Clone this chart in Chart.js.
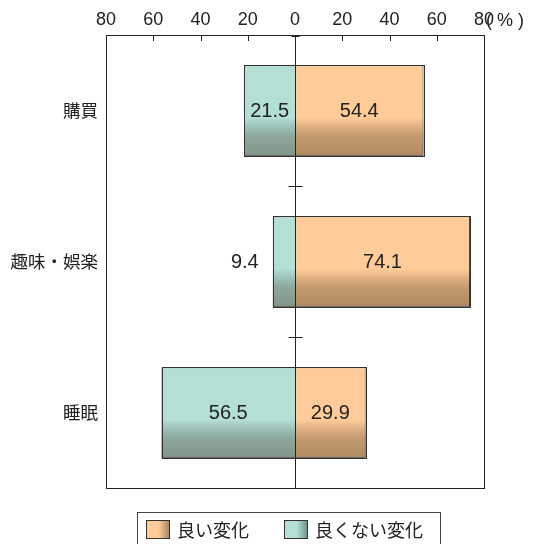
<!DOCTYPE html>
<html>
<head>
<meta charset="utf-8">
<script src="https://cdn.jsdelivr.net/npm/chart.js@4/dist/chart.umd.min.js"></script>
<style>
  html, body { margin: 0; padding: 0; background: #fff; }
  #wrap { width: 536px; height: 544px; }
</style>
</head>
<body>
<div id="wrap"><canvas id="changeChart" width="536" height="544"></canvas></div>
<script>
const categories = ["購買", "趣味・娯楽", "睡眠"];
const goodValues = [54.4, 74.1, 29.9];
const badValues = [21.5, 9.4, 56.5];
const legendNames = ["良い変化", "良くない変化"];
const axisUnit = "( % )";

const FONT = "'Liberation Sans', 'Noto Sans CJK JP', sans-serif";
const JP_FONT = "'Noto Sans CJK JP', 'Liberation Sans', sans-serif";
const orange = "#FFCC99";
const teal = "#B3DFD5";

// darken the lower part of each bar and draw the labels
const barShade = {
  id: "barShade",
  afterDatasetsDraw(chart) {
    const ctx = chart.ctx;
    chart.data.datasets.forEach((ds, di) => {
      const meta = chart.getDatasetMeta(di);
      meta.data.forEach((bar, i) => {
        const h = bar.height;
        const top = bar.y - h / 2;
        const left = Math.min(bar.x, bar.base);
        const w = Math.abs(bar.x - bar.base);
        const g = ctx.createLinearGradient(0, top, 0, top + h);
        g.addColorStop(0, "rgba(0,0,0,0)");
        g.addColorStop(0.58, "rgba(0,0,0,0)");
        g.addColorStop(0.78, "rgba(40,20,0,0.27)");
        g.addColorStop(1, "rgba(40,20,0,0.36)");
        ctx.save();
        ctx.fillStyle = g;
        ctx.fillRect(left, top, w, h);
        ctx.strokeStyle = "#333";
        ctx.lineWidth = 1;
        ctx.strokeRect(Math.round(left) + 0.5, Math.round(top) + 0.5, Math.round(w), Math.round(h));
        ctx.restore();
      });
    });
  },
  afterDraw(chart) {
    const ctx = chart.ctx;
    const a = chart.chartArea;
    const xs = chart.scales.x;
    const ys = chart.scales.y;
    const zero = Math.round(xs.getPixelForValue(0)) + 0.5;
    ctx.save();
    ctx.strokeStyle = "#222";
    ctx.lineWidth = 1;
    // frame
    ctx.strokeRect(Math.round(a.left) + 0.5, Math.round(a.top) + 0.5, Math.round(a.right - a.left), Math.round(a.bottom - a.top));
    // zero line
    ctx.beginPath();
    ctx.moveTo(zero, a.top);
    ctx.lineTo(zero, a.bottom);
    ctx.stroke();
    // ticks on top axis
    xs.ticks.forEach(t => {
      const px = Math.round(xs.getPixelForValue(t.value)) + 0.5;
      ctx.beginPath();
      ctx.moveTo(px, a.top);
      ctx.lineTo(px, a.top + 6);
      ctx.stroke();
    });
    ctx.lineWidth = 2;
    ctx.beginPath();
    ctx.moveTo(zero - 4, a.top + 1);
    ctx.lineTo(zero + 4, a.top + 1);
    ctx.stroke();
    ctx.lineWidth = 1;
    // category separators on zero line
    for (let i = 1; i < categories.length; i++) {
      const py = Math.round((ys.getPixelForValue(i - 1) + ys.getPixelForValue(i)) / 2) + 0.5;
      ctx.beginPath();
      ctx.moveTo(zero - 7, py);
      ctx.lineTo(zero + 7, py);
      ctx.stroke();
    }
    // value labels
    ctx.fillStyle = "#222";
    ctx.font = "20px " + FONT;
    ctx.textBaseline = "middle";
    ctx.textAlign = "center";
    chart.data.datasets.forEach((ds, di) => {
      const meta = chart.getDatasetMeta(di);
      meta.data.forEach((bar, i) => {
        const v = Math.abs(ds.data[i]);
        const w = Math.abs(bar.x - bar.base);
        let cx = (bar.x + bar.base) / 2;
        if (w < 40) cx = Math.min(bar.x, bar.base) - 28;
        ctx.fillText(v.toFixed(1), cx, bar.y + 1);
      });
    });
    // unit
    ctx.font = "18px " + FONT;
    ctx.textAlign = "left";
    ctx.fillText(axisUnit, 486, 21);
    // legend
    const lx = 137.5, ly = 512.5;
    ctx.strokeStyle = "#444";
    ctx.strokeRect(lx, ly, 303, 40);
    const items = [[orange, legendNames[0], 146], [teal, legendNames[1], 284]];
    items.forEach(([c, name, sx]) => {
      const g = ctx.createLinearGradient(sx, 0, sx + 23, 0);
      g.addColorStop(0, c);
      g.addColorStop(0.55, c);
      g.addColorStop(1, dark(c));
      ctx.fillStyle = g;
      ctx.fillRect(sx, 520, 23, 18);
      ctx.strokeStyle = "#333";
      ctx.strokeRect(sx + 0.5, 520.5, 23, 18);
      ctx.fillStyle = "#222";
      ctx.font = "18px " + JP_FONT;
      ctx.fillText(name, sx + 31, 530);
    });
    ctx.restore();
  }
};

function dark(c) {
  return c === orange ? "#A88866" : "#6F968E";
}

const data = {
  labels: categories,
  datasets: [
    {
      label: legendNames[0],
      data: goodValues,
      backgroundColor: orange,
      borderColor: "#333",
      borderWidth: 1,
      barPercentage: 0.6,
      categoryPercentage: 1
    },
    {
      label: legendNames[1],
      data: badValues.map(v => -v),
      backgroundColor: teal,
      borderColor: "#333",
      borderWidth: 1,
      barPercentage: 0.6,
      categoryPercentage: 1
    }
  ]
};

const config = {
  type: "bar",
  data: data,
  options: {
    indexAxis: "y",
    responsive: false,
    animation: false,
    layout: { padding: { left: 0, top: 0, right: 52, bottom: 56 } },
    plugins: {
      legend: { display: false },
      tooltip: { enabled: false }
    },
    scales: {
      x: {
        position: "top",
        stacked: true,
        min: -80,
        max: 80,
        afterFit: s => { s.height = 35; },
        grid: { display: false, drawTicks: false },
        border: { display: false },
        ticks: {
          stepSize: 20,
          padding: 4,
          color: "#222",
          font: { family: FONT, size: 18 },
          callback: v => Math.abs(v)
        }
      },
      y: {
        stacked: true,
        afterFit: s => { s.width = 106; },
        grid: { display: false, drawTicks: false },
        border: { display: false },
        ticks: {
          padding: 8,
          color: "#222",
          font: { family: JP_FONT, size: 17.5 }
        }
      }
    }
  },
  plugins: [barShade]
};

const myChart = new Chart(document.getElementById("changeChart"), config);
</script>
</body>
</html>
